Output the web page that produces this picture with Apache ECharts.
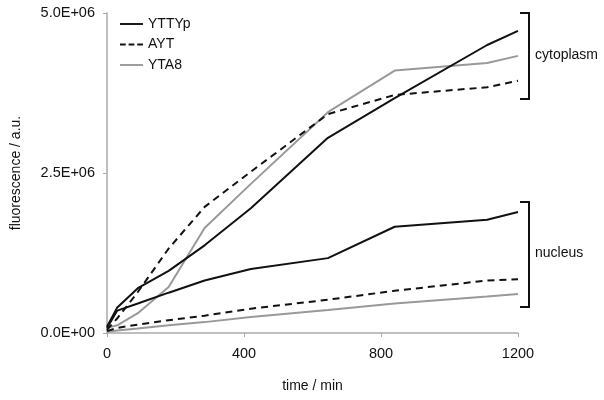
<!DOCTYPE html>
<html>
<head>
<meta charset="utf-8">
<script src="https://cdn.jsdelivr.net/npm/echarts@6/dist/echarts.min.js"></script>
<style>html,body{margin:0;padding:0;background:#fff}#c{width:604px;height:400px}</style>
</head>
<body>
<div id="c"></div>
<script>
// time points (min)
const times = [0, 30, 90, 180, 285, 420, 645, 840, 1110, 1200];
// fluorescence values (millions a.u.)
const yttypCyto = [0.10, 0.40, 0.70, 0.97, 1.37, 1.95, 3.05, 3.67, 4.50, 4.72];
const aytCyto   = [0.05, 0.23, 0.64, 1.32, 1.97, 2.52, 3.42, 3.72, 3.84, 3.94];
const yta8Cyto  = [0.08, 0.12, 0.31, 0.72, 1.64, 2.33, 3.45, 4.10, 4.22, 4.33];
const yttypNuc  = [0.08, 0.35, 0.46, 0.63, 0.82, 1.00, 1.17, 1.66, 1.77, 1.89];
const aytNuc    = [0.03, 0.08, 0.13, 0.20, 0.27, 0.38, 0.52, 0.66, 0.82, 0.84];
const yta8Nuc   = [0.02, 0.04, 0.07, 0.12, 0.17, 0.25, 0.36, 0.46, 0.57, 0.61];
const seriesNames = ['YTTYp', 'AYT', 'YTA8'];
const groupLabels = ['cytoplasm', 'nucleus'];
const xTicks = [0, 400, 800, 1200];
const yTicks = [0, 2.5e6, 5e6];

const FONT = 'Liberation Sans, Arial, sans-serif';
const pairs = vals => times.map((t, i) => [t, vals[i] * 1e6]);
const styles = {
  YTTYp: {color: '#111', type: 'solid'},
  AYT: {color: '#111', type: [7, 5]},
  YTA8: {color: '#999', type: 'solid'}
};
const solidIcon = 'path://M0,0h24v2h-24z';
const dashIcon = 'path://M0,0h6v2h-6zM9,0h6v2h-6zM18,0h6v2h-6z';
function mk(name, vals) {
  return {
    name, type: 'line', data: pairs(vals), symbol: 'none', showSymbol: false,
    lineStyle: {width: 2, color: styles[name].color, type: styles[name].type},
    itemStyle: {color: styles[name].color},
    emphasis: {disabled: true}, animation: false, z: name === 'YTA8' ? 1 : 2
  };
}
function fmtE(v) {
  if (v === 0) return '0.0E+00';
  const e = Math.floor(Math.log10(v));
  const m = v / Math.pow(10, e);
  return m.toFixed(1) + 'E+' + String(e).padStart(2, '0');
}

const chart = echarts.init(document.getElementById('c'), null, {renderer: 'canvas'});
chart.setOption({
  animation: false,
  grid: {left: 107, right: 86, top: 13, bottom: 67, containLabel: false},
  legend: {
    data: seriesNames.map(n => ({name: n, icon: n === 'AYT' ? dashIcon : solidIcon,
      itemStyle: {color: styles[n].color}})),
    orient: 'vertical', left: 120, top: 16, padding: 0,
    itemWidth: 23, itemHeight: 2, itemGap: 4.5,
    textStyle: {fontFamily: FONT, fontSize: 14, color: '#111', lineHeight: 16},
    selectedMode: false
  },
  xAxis: {
    type: 'value', min: xTicks[0], max: xTicks[xTicks.length - 1], interval: 400,
    name: 'time / min', nameLocation: 'middle', nameGap: 46,
    nameTextStyle: {fontFamily: FONT, fontSize: 14, color: '#111'},
    axisLine: {show: true, lineStyle: {color: '#aaa', width: 1.5}},
    axisTick: {show: true, length: 4, lineStyle: {color: '#aaa'}},
    axisLabel: {fontFamily: FONT, fontSize: 14.5, color: '#111', margin: 13, formatter: v => String(v)},
    splitLine: {show: false}
  },
  yAxis: {
    type: 'value', min: yTicks[0], max: yTicks[yTicks.length - 1], interval: 2.5e6,
    name: 'fluorescence / a.u.', nameLocation: 'middle', nameGap: 84,
    nameTextStyle: {fontFamily: FONT, fontSize: 14, color: '#111'},
    axisLine: {show: true, lineStyle: {color: '#aaa', width: 1.5}},
    axisTick: {show: true, length: 4, lineStyle: {color: '#aaa'}},
    axisLabel: {fontFamily: FONT, fontSize: 14.5, color: '#111', margin: 12, formatter: fmtE},
    splitLine: {show: false}
  },
  series: [
    mk('YTA8', yta8Cyto), mk('YTA8', yta8Nuc),
    mk('AYT', aytCyto), mk('AYT', aytNuc),
    mk('YTTYp', yttypCyto), mk('YTTYp', yttypNuc)
  ],
  graphic: [
    {type: 'polyline', shape: {points: [[520, 13], [529, 13], [529, 99], [520, 99]]},
     style: {stroke: '#111', lineWidth: 2, fill: null}},
    {type: 'polyline', shape: {points: [[520, 202], [529, 202], [529, 307], [520, 307]]},
     style: {stroke: '#111', lineWidth: 2, fill: null}},
    {type: 'text', left: 535, top: 48,
     style: {text: groupLabels[0], font: '14px ' + FONT, fill: '#111'}},
    {type: 'text', left: 535, top: 246,
     style: {text: groupLabels[1], font: '14px ' + FONT, fill: '#111'}}
  ]
});
</script>
</body>
</html>
